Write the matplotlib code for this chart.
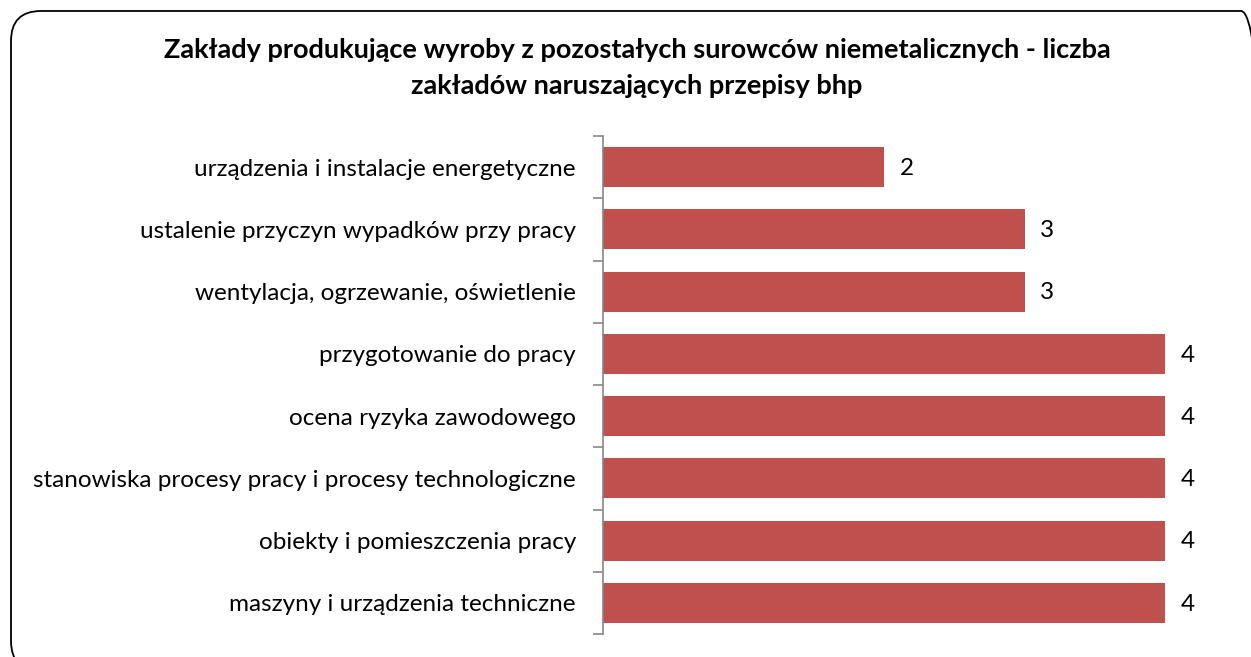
import matplotlib.pyplot as plt
from matplotlib.patches import FancyBboxPatch
from matplotlib.transforms import IdentityTransform

plt.rcParams["font.family"] = ["Lato", "DejaVu Sans"]

categories = [
    "maszyny i urządzenia techniczne",
    "obiekty i pomieszczenia pracy",
    "stanowiska procesy pracy i procesy technologiczne",
    "ocena ryzyka zawodowego",
    "przygotowanie do pracy",
    "wentylacja, ogrzewanie, oświetlenie",
    "ustalenie przyczyn wypadków przy pracy",
    "urządzenia i instalacje energetyczne",
]
values = [4, 4, 4, 4, 4, 3, 3, 2]
title = ("Zakłady produkujące wyroby z pozostałych surowców niemetalicznych - liczba\n"
         "zakładów naruszających przepisy bhp")

W, H = 1251, 657
fig = plt.figure(figsize=(W / 100, H / 100), dpi=100)

# rounded frame around the chart area (pixel coordinates, origin bottom-left)
frame = FancyBboxPatch((11, -14), 1260, 660,
                       boxstyle="round,pad=0,rounding_size=30",
                       transform=IdentityTransform(), fill=False,
                       edgecolor="black", linewidth=1.3)
fig.patches.append(frame)

ax = fig.add_axes([603 / W, 1 - 634 / H, (1165 - 603) / W, (634 - 136) / H])
ypos = list(range(len(categories)))
ax.barh(ypos, values, height=0.64, color="#C0504D")
ax.set_xlim(0, 4)
ax.set_ylim(-0.5, len(categories) - 0.5)

for y, v in zip(ypos, values):
    ax.text(v + 0.11, y - 0.02, str(v), va="center", ha="left", fontsize=17.5, clip_on=False)

ax.set_yticks(ypos)
ax.set_yticklabels(categories, fontsize=17.5)
ax.tick_params(axis="y", which="major", length=0, pad=19.5)
ax.set_yticks([i - 0.5 for i in range(len(categories) + 1)], minor=True)
ax.tick_params(axis="y", which="minor", length=7, width=1.2, color="#868686")
ax.set_xticks([])
for s in ["top", "right", "bottom"]:
    ax.spines[s].set_visible(False)
ax.spines["left"].set_color("#868686")
ax.spines["left"].set_linewidth(1.2)

fig.text(637 / W, 1 - 68 / H, title, ha="center", va="center", fontsize=19.5,
         fontweight="bold", linespacing=1.6)

fig.savefig("out.png", dpi=100)
